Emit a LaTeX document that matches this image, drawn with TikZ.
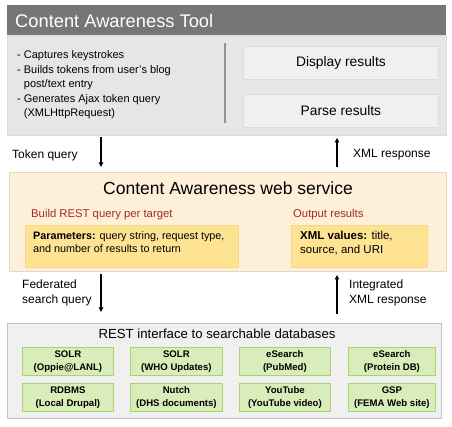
\documentclass[tikz,border=0pt]{standalone}
\usepackage{fontspec}
\setmainfont{Liberation Sans}
\usetikzlibrary{arrows.meta}
\definecolor{hdr}{HTML}{767676}
\definecolor{bodyg}{HTML}{E6E6E6}
\definecolor{inbox}{HTML}{EFF0EF}
\definecolor{inbord}{HTML}{DCDCDC}
\definecolor{orfill}{HTML}{FDEFD8}
\definecolor{orbord}{HTML}{E3D6C2}
\definecolor{yefill}{HTML}{FEE393}
\definecolor{yebord}{HTML}{F4D98A}
\definecolor{grfill}{HTML}{D9EDBA}
\definecolor{grbord}{HTML}{A9D36F}
\definecolor{botfill}{HTML}{F0F0F0}
\definecolor{botbord}{HTML}{C4C4C4}
\definecolor{redtxt}{HTML}{A52A2A}
\tikzset{
  res/.style={draw=inbord, fill=inbox, line width=0.8pt},
  yel/.style={draw=yebord, fill=yefill, line width=0.8pt},
  grn/.style={draw=grbord, fill=grfill, line width=0.8pt, align=center, font=\bfseries\fontsize{9.6}{12.5}\selectfont, inner sep=0pt},
  lbl/.style={font=\fontsize{12}{15}\selectfont, align=left, anchor=west, inner sep=0pt},
  red/.style={font=\fontsize{11.3}{13}\selectfont, text=redtxt, anchor=west, inner sep=0pt},
  arr/.style={line width=1.2pt, -{Triangle[length=4.5pt,width=4.5pt]}}
}
\begin{document}
\begin{tikzpicture}[x=1pt,y=-1pt]
\useasboundingbox (0,0) rectangle (452,427);
% top box
\node[draw=inbord, fill=bodyg, minimum width=439pt, minimum height=100pt, inner sep=0pt, anchor=north west] (tool) at (7,35) {};
\node[fill=hdr, minimum width=439pt, minimum height=30pt, inner sep=0pt, anchor=north west] (hdr) at (7,5) {};
\node[anchor=west, text=white, font=\fontsize{18.3}{21}\selectfont, inner sep=0pt] (title) at (15,21) {Content Awareness Tool};
\node[lbl, font=\fontsize{11}{14.5}\selectfont] (list) at (17,85) {- Captures keystrokes\\- Builds tokens from user's blog\\\hphantom{- }post/text entry\\- Generates Ajax token query\\\hphantom{- }(XMLHttpRequest)};
\coordinate (dtop) at (225,43);
\coordinate (dbot) at (225,123);
\draw[line width=1.2pt, color=gray!85] (dtop) -- (dbot);
\node[res, minimum width=195pt, minimum height=33pt, inner sep=0pt, anchor=north west] (disp) at (243,46.5) {};
\node[font=\fontsize{13.8}{16}\selectfont] at (disp.center) {Display results};
\node[res, minimum width=195pt, minimum height=33pt, inner sep=0pt, anchor=north west] (parse) at (243,94) {};
\node[font=\fontsize{13.8}{16}\selectfont] at (parse.center) {Parse results};
% middle box
\node[draw=orbord, fill=orfill, line width=0.8pt, minimum width=437pt, minimum height=99pt, inner sep=0pt, anchor=north west] (ws) at (9,172) {};
\node[font=\fontsize{17.5}{20}\selectfont, inner sep=0pt] (wstitle) at (228,188) {Content Awareness web service};
\node[red] (build) at (31,215) {Build REST query per target};
\node[red] (outr) at (293,215) {Output results};
\node[yel, minimum width=213pt, minimum height=42pt, inner sep=0pt, anchor=north west] (params) at (25,225) {};
\node[lbl, font=\fontsize{10.8}{12.5}\selectfont] at (33,242) {\textbf{Parameters:} query string, request type,\\and number of results to return};
\node[yel, minimum width=136pt, minimum height=42pt, inner sep=0pt, anchor=north west] (xmlv) at (291,225) {};
\node[lbl, font=\fontsize{11.5}{13.5}\selectfont] at (300,243) {\textbf{XML values:} title,\\source, and URI};
% bottom box
\node[draw=botbord, fill=botfill, line width=0.8pt, minimum width=434pt, minimum height=95pt, inner sep=0pt, anchor=north west] (rest) at (7,323) {};
\node[font=\fontsize{13.2}{15}\selectfont, inner sep=0pt] (resttitle) at (217,333.5) {REST interface to searchable databases};
\foreach \n/\x/\w/\y/\t in {
  a/22/91/347/{SOLR\\(Oppie@LANL)},
  b/130/92/347/{SOLR\\(WHO Updates)},
  c/239/91/347/{eSearch\\(PubMed)},
  d/348/87/347/{eSearch\\(Protein DB)},
  e/22/91/383/{RDBMS\\(Local Drupal)},
  f/130/92/383/{Nutch\\(DHS documents)},
  g/239/91/383/{YouTube\\(YouTube video)},
  h/348/87/383/{GSP\\(FEMA Web site)}}{
  \node[grn, minimum width=\w pt, minimum height=28pt, anchor=north west] (db\n) at (\x,\y) {\t};
}
% arrows
\coordinate (a1s) at (101,137);
\coordinate (a1e) at (101,167);
\coordinate (a2s) at (337,167);
\coordinate (a2e) at (337,138);
\coordinate (a3s) at (101,274);
\coordinate (a3e) at (101,312);
\coordinate (a4s) at (337,314);
\coordinate (a4e) at (337,275);
\draw[arr] (a1s) -- (a1e);
\draw[arr] (a2s) -- (a2e);
\draw[arr] (a3s) -- (a3e);
\draw[arr] (a4s) -- (a4e);
\node[lbl] (tq) at (12,155) {Token query};
\node[lbl] (xr) at (353,155) {XML response};
\node[lbl] (fq) at (22,292.5) {Federated\\search query};
\node[lbl] (ix) at (349,292.5) {Integrated\\XML response};
\end{tikzpicture}
\end{document}
